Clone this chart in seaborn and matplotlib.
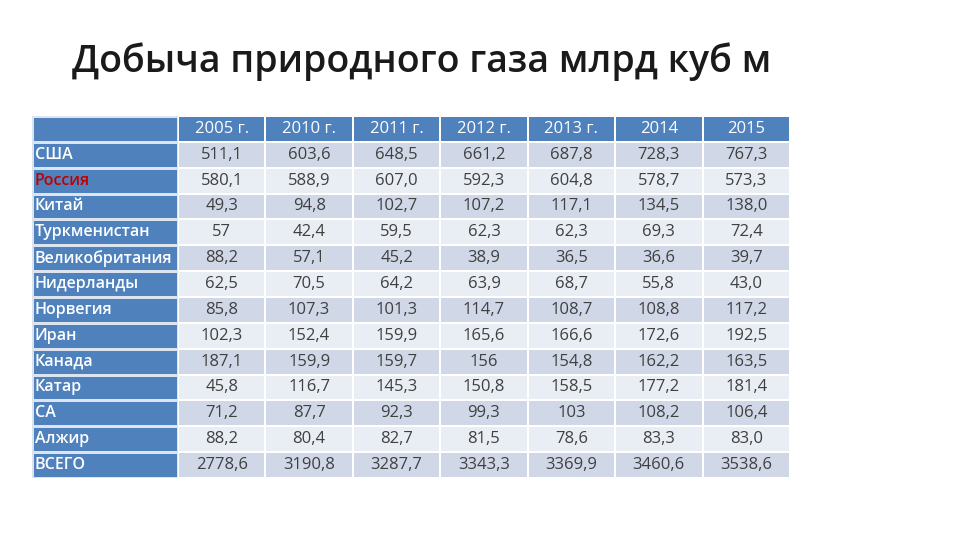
import numpy as np
import seaborn as sns
import matplotlib.pyplot as plt
from matplotlib.colors import ListedColormap

countries = ["США", "Россия", "Китай", "Туркменистан", "Великобритания",
             "Нидерланды", "Норвегия", "Иран", "Канада", "Катар", "СА",
             "Алжир", "ВСЕГО"]
years = ["2005 г.", "2010 г.", "2011 г.", "2012 г.", "2013 г.", "2014", "2015"]
values = [
    ["511,1", "603,6", "648,5", "661,2", "687,8", "728,3", "767,3"],
    ["580,1", "588,9", "607,0", "592,3", "604,8", "578,7", "573,3"],
    ["49,3", "94,8", "102,7", "107,2", "117,1", "134,5", "138,0"],
    ["57", "42,4", "59,5", "62,3", "62,3", "69,3", "72,4"],
    ["88,2", "57,1", "45,2", "38,9", "36,5", "36,6", "39,7"],
    ["62,5", "70,5", "64,2", "63,9", "68,7", "55,8", "43,0"],
    ["85,8", "107,3", "101,3", "114,7", "108,7", "108,8", "117,2"],
    ["102,3", "152,4", "159,9", "165,6", "166,6", "172,6", "192,5"],
    ["187,1", "159,9", "159,7", "156", "154,8", "162,2", "163,5"],
    ["45,8", "116,7", "145,3", "150,8", "158,5", "177,2", "181,4"],
    ["71,2", "87,7", "92,3", "99,3", "103", "108,2", "106,4"],
    ["88,2", "80,4", "82,7", "81,5", "78,6", "83,3", "83,0"],
    ["2778,6", "3190,8", "3287,7", "3343,3", "3369,9", "3460,6", "3538,6"],
]

sns.set_theme(style="white")
plt.rcParams['font.family'] = ['Open Sans', 'DejaVu Sans']

blue = "#4F81BD"
cmap = ListedColormap([blue, "#D0D8E8", "#E9EDF4"])

n_rows = len(countries) + 1
# 0 = header, 1/2 = alternating shading
shade = np.array([[0] * len(years)] +
                 [[1 + (i % 2)] * len(years) for i in range(len(countries))])

fig = plt.figure(figsize=(9.6, 5.4), dpi=100)
bottom = (540 - 478) / 540
height = 362 / 540

ax_names = fig.add_axes([32 / 960, bottom, 146 / 960, height])
sns.heatmap(np.zeros((n_rows, 1)), cmap=ListedColormap([blue]), cbar=False,
            linewidths=0.8, linecolor="#DCE4F0", ax=ax_names)
ax_names.set_xticks([]); ax_names.set_yticks([])
for i, c in enumerate(countries):
    ax_names.text(0.02, i + 1.5, c, ha="left", va="center", fontsize=11.5,
                  fontweight="semibold",
                  color="#C00000" if c == "Россия" else "white")

ax = fig.add_axes([178 / 960, bottom, 612 / 960, height])
sns.heatmap(shade, cmap=cmap, vmin=0, vmax=2, cbar=False,
            linewidths=1.2, linecolor="white", ax=ax)
ax.set_xticks([]); ax.set_yticks([])
for j, y in enumerate(years):
    ax.text(j + 0.5, 0.5, y, ha="center", va="center", fontsize=12, color="white")
for i, row in enumerate(values):
    for j, v in enumerate(row):
        ax.text(j + 0.5, i + 1.5, v, ha="center", va="center", fontsize=12,
                color="#404040")

fig.text(72 / 960, 1 - 62 / 540, "Добыча природного газа млрд куб м",
         fontsize=27, fontweight="semibold", color="#1a1a1a",
         va="center", ha="left")

fig.savefig("out.png", dpi=100)
